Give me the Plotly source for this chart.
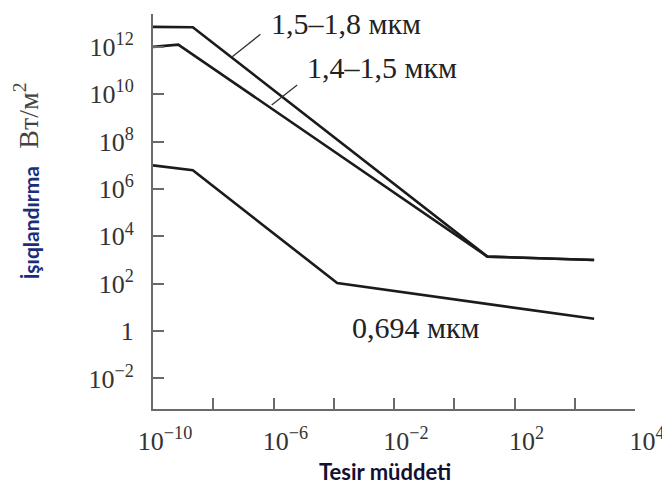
import math
import plotly.graph_objects as go

# ---- data ----
x_1518 = [1e-10, 2.1e-9, 12.6, 4.4e4]
y_1518 = [7.0e12, 6.8e12, 1.4e3, 1.0e3]

x_1415 = [1e-10, 6.9e-10, 12.6, 4.4e4]
y_1415 = [1.0e12, 1.25e12, 1.4e3, 1.0e3]

x_0694 = [1e-10, 2.1e-9, 1.3e-4, 4.4e4]
y_0694 = [1.0e7, 6.2e6, 1.07e2, 3.3]

series_labels = ["1,5–1,8 мкм", "1,4–1,5 мкм", "0,694 мкм"]

x_tickvals = [1e-10, 1e-8, 1e-6, 1e-4, 1e-2, 1, 1e2, 1e4, 1e6]
x_ticktext = ["10<sup>−10</sup>", "", "10<sup>−6</sup>", "", "10<sup>−2</sup>", "",
              "10<sup>2</sup>", "", "10<sup>4</sup>"]
y_tickvals = [1e-2, 1, 1e2, 1e4, 1e6, 1e8, 1e10, 1e12]
y_ticktext = ["10<sup>−2</sup>", "1", "10<sup>2</sup>", "10<sup>4</sup>", "10<sup>6</sup>",
              "10<sup>8</sup>", "10<sup>10</sup>", "10<sup>12</sup>"]

x_title = "Tesir müddeti"
y_title_main = "İşıqlandırma"
y_title_unit = "Вт/м<sup>2</sup>"

LINE = "#1b1b1b"
AXIS = "#6a6a6a"
SERIF = "Liberation Serif"

fig = go.Figure()
for xs, ys, name in [(x_1518, y_1518, series_labels[0]),
                     (x_1415, y_1415, series_labels[1]),
                     (x_0694, y_0694, series_labels[2])]:
    fig.add_trace(go.Scatter(x=xs, y=ys, mode="lines", name=name,
                             line=dict(color=LINE, width=2.6), showlegend=False))

axis_common = dict(showline=True, linecolor=AXIS, linewidth=2, ticks="inside",
                   ticklen=11, tickwidth=2, tickcolor=AXIS, showgrid=False,
                   zeroline=False, automargin=False,
                   tickfont=dict(family=SERIF, size=26, color="#333333"))

fig.update_xaxes(type="log", range=[-10, 6], tickmode="array", tickvals=x_tickvals,
                 ticktext=x_ticktext, ticklabelstandoff=8, ticklabelshift=12, **axis_common)
fig.update_yaxes(type="log", range=[-3.29, 13.39], tickmode="array", tickvals=y_tickvals,
                 ticktext=y_ticktext, ticklabelstandoff=12, **axis_common)

ann_font = dict(family=SERIF, size=30, color="#222222")
annotations = [
    # labels
    dict(x=-6.12, y=12.97, xref="x", yref="y", text=series_labels[0], showarrow=False,
         xanchor="left", yanchor="middle", font=ann_font, borderpad=0),
    dict(x=-4.95, y=11.11, xref="x", yref="y", text=series_labels[1], showarrow=False,
         xanchor="left", yanchor="middle", font=ann_font),
    dict(x=-3.46, y=0.14, xref="x", yref="y", text=series_labels[2], showarrow=False,
         xanchor="left", yanchor="middle", font=ann_font),
    # leader lines
    dict(x=-7.38, y=11.57, xref="x", yref="y", ax=30, ay=-24, text="", showarrow=True,
         arrowhead=0, arrowwidth=1.3, arrowcolor="#333333"),
    dict(x=-6.06, y=9.55, xref="x", yref="y", ax=27, ay=-21, text="", showarrow=True,
         arrowhead=0, arrowwidth=1.3, arrowcolor="#333333"),
    # axis titles
    dict(x=0.481, y=-0.159, xref="paper", yref="paper", text="<b>" + x_title + "</b>",
         showarrow=False, xanchor="center", yanchor="middle",
         font=dict(family="Lato", size=22, color="#111133")),
    dict(x=-0.253, y=0.472, xref="paper", yref="paper", textangle=-90, showarrow=False,
         xanchor="center", yanchor="middle", text="<b>" + y_title_main + "</b>",
         font=dict(family="Lato", size=21, color="#1c2e7a")),
    dict(x=-0.262, y=0.742, xref="paper", yref="paper", textangle=-90, showarrow=False,
         xanchor="center", yanchor="middle", text=y_title_unit,
         font=dict(family=SERIF, size=28, color="#444444")),
]
# the page body has an 8px default margin, so the figure is 8px smaller and margins shifted
fig.update_layout(width=662, height=478, margin=dict(l=145, r=35, t=6, b=77),
                  plot_bgcolor="white", paper_bgcolor="white", annotations=annotations)

fig.write_html("out.html")
